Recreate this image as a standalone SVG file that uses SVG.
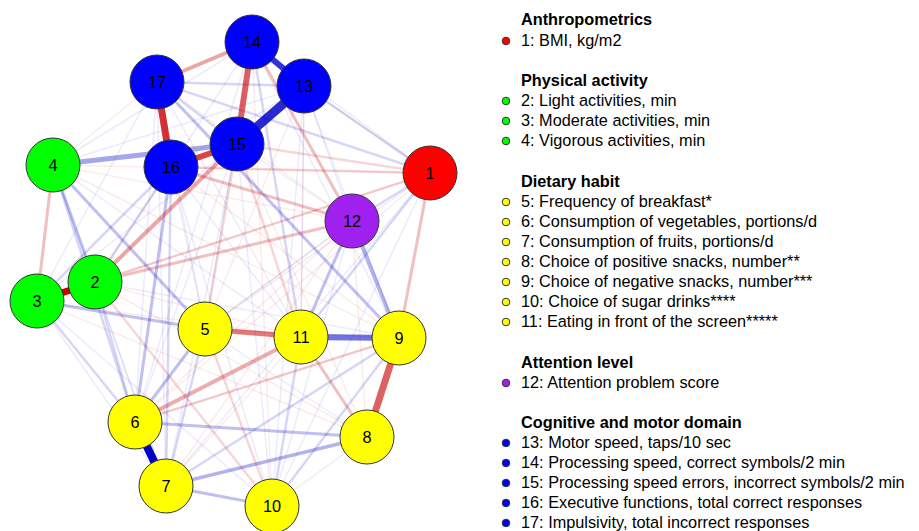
<svg xmlns="http://www.w3.org/2000/svg" width="919" height="531" viewBox="0 0 919 531">
<style>
.p{stroke:#0000c8;fill:none}
.n{stroke:#c80000;fill:none}
.f1{stroke-width:1.5;stroke-opacity:.08}
.f2{stroke-width:2.5;stroke-opacity:.16}
.f3{stroke-width:3;stroke-opacity:.25}
.node circle{stroke:#333;stroke-width:1}
.node text,.lab{font-family:"Liberation Sans",Arial,sans-serif;font-size:16.3px;fill:#000}
.node text{text-anchor:middle}
.head{font-family:"Liberation Sans",Arial,sans-serif;font-size:16.3px;font-weight:bold;fill:#000}
.dot{stroke:#333;stroke-width:1}
.c1{fill:#ff0000}.c2{fill:#00ff00}.c3{fill:#ffff00}.c4{fill:#a020f0}.c5{fill:#0000ff}
</style>
<rect width="919" height="531" fill="#fff"/>
<g id="edges">
<line class="p f1" x1="430" y1="173" x2="252" y2="42"/>
<line class="p f1" x1="430" y1="173" x2="205" y2="329"/>
<line class="p f1" x1="430" y1="173" x2="272" y2="506"/>
<line class="p f1" x1="430" y1="173" x2="166" y2="486"/>
<line class="p f1" x1="53" y1="165" x2="304" y2="86"/>
<line class="p f1" x1="53" y1="165" x2="252" y2="42"/>
<line class="p f1" x1="53" y1="165" x2="166" y2="486"/>
<line class="p f1" x1="53" y1="165" x2="301" y2="337"/>
<line class="p f1" x1="37" y1="301" x2="166" y2="486"/>
<line class="p f1" x1="37" y1="301" x2="272" y2="506"/>
<line class="p f1" x1="95" y1="282" x2="166" y2="486"/>
<line class="p f1" x1="205" y1="329" x2="367" y2="437"/>
<line class="p f1" x1="205" y1="329" x2="399" y2="338"/>
<line class="p f1" x1="367" y1="437" x2="272" y2="506"/>
<line class="p f1" x1="352" y1="221" x2="272" y2="506"/>
<line class="p f1" x1="157" y1="82" x2="301" y2="337"/>
<line class="p f1" x1="304" y1="86" x2="171" y2="167"/>
<line class="p f1" x1="252" y1="42" x2="171" y2="167"/>
<line class="p f1" x1="237" y1="144" x2="272" y2="506"/>
<line class="p f1" x1="171" y1="167" x2="272" y2="506"/>
<line class="p f1" x1="171" y1="167" x2="301" y2="337"/>
<line class="p f1" x1="157" y1="82" x2="205" y2="329"/>
<line class="p f1" x1="157" y1="82" x2="135" y2="422"/>
<line class="p f1" x1="352" y1="221" x2="205" y2="329"/>
<line class="p f1" x1="352" y1="221" x2="237" y2="144"/>
<line class="p f1" x1="304" y1="86" x2="301" y2="337"/>
<line class="p f1" x1="95" y1="282" x2="399" y2="338"/>
<line class="p f1" x1="37" y1="301" x2="237" y2="144"/>
<line class="p f1" x1="37" y1="301" x2="157" y2="82"/>
<line class="p f1" x1="237" y1="144" x2="135" y2="422"/>
<line class="p f1" x1="237" y1="144" x2="166" y2="486"/>
<line class="p f1" x1="252" y1="42" x2="135" y2="422"/>
<line class="p f1" x1="304" y1="86" x2="352" y2="221"/>
<line class="p f1" x1="171" y1="167" x2="205" y2="329"/>
<line class="p f1" x1="157" y1="82" x2="166" y2="486"/>
<line class="p f1" x1="252" y1="42" x2="205" y2="329"/>
<line class="p f1" x1="304" y1="86" x2="272" y2="506"/>
<line class="p f1" x1="304" y1="86" x2="399" y2="338"/>
<line class="p f1" x1="252" y1="42" x2="399" y2="338"/>
<line class="n f1" x1="430" y1="173" x2="135" y2="422"/>
<line class="n f1" x1="430" y1="173" x2="37" y2="301"/>
<line class="n f1" x1="37" y1="301" x2="301" y2="337"/>
<line class="n f1" x1="37" y1="301" x2="367" y2="437"/>
<line class="n f1" x1="95" y1="282" x2="367" y2="437"/>
<line class="n f1" x1="135" y1="422" x2="352" y2="221"/>
<line class="n f1" x1="166" y1="486" x2="352" y2="221"/>
<line class="n f1" x1="205" y1="329" x2="304" y2="86"/>
<line class="n f1" x1="272" y1="506" x2="252" y2="42"/>
<line class="n f1" x1="53" y1="165" x2="157" y2="82"/>
<line class="n f1" x1="53" y1="165" x2="352" y2="221"/>
<line class="n f1" x1="301" y1="337" x2="304" y2="86"/>
<line class="n f1" x1="157" y1="82" x2="352" y2="221"/>
<line class="n f1" x1="399" y1="338" x2="171" y2="167"/>
<line class="n f1" x1="367" y1="437" x2="237" y2="144"/>
<line class="n f1" x1="95" y1="282" x2="301" y2="337"/>
<line class="n f1" x1="430" y1="173" x2="53" y2="165"/>
<line class="n f1" x1="53" y1="165" x2="399" y2="338"/>
<line class="n f1" x1="205" y1="329" x2="352" y2="221"/>
<line class="n f1" x1="367" y1="437" x2="352" y2="221"/>
<line class="n f1" x1="166" y1="486" x2="301" y2="337"/>
<line class="n f1" x1="135" y1="422" x2="399" y2="338"/>
<line class="n f1" x1="430" y1="173" x2="304" y2="86"/>
<line class="n f1" x1="95" y1="282" x2="171" y2="167"/>
<line class="p f2" x1="430" y1="173" x2="304" y2="86"/>
<line class="p f2" x1="430" y1="173" x2="157" y2="82"/>
<line class="p f2" x1="430" y1="173" x2="301" y2="337"/>
<line class="p f2" x1="430" y1="173" x2="352" y2="221"/>
<line class="p f2" x1="166" y1="486" x2="399" y2="338"/>
<line class="p f2" x1="301" y1="337" x2="272" y2="506"/>
<line class="p f2" x1="272" y1="506" x2="399" y2="338"/>
<line class="p f2" x1="37" y1="301" x2="171" y2="167"/>
<line class="p f2" x1="95" y1="282" x2="171" y2="167"/>
<line class="p f2" x1="37" y1="301" x2="135" y2="422"/>
<line class="p f2" x1="95" y1="282" x2="135" y2="422"/>
<line class="p f2" x1="252" y1="42" x2="301" y2="337"/>
<line class="p f2" x1="157" y1="82" x2="304" y2="86"/>
<line class="p f2" x1="171" y1="167" x2="166" y2="486"/>
<line class="p f2" x1="205" y1="329" x2="166" y2="486"/>
<line class="p f2" x1="157" y1="82" x2="237" y2="144"/>
<line class="p f2" x1="53" y1="165" x2="135" y2="422"/>
<line class="n f2" x1="430" y1="173" x2="237" y2="144"/>
<line class="n f2" x1="430" y1="173" x2="171" y2="167"/>
<line class="n f2" x1="430" y1="173" x2="95" y2="282"/>
<line class="n f2" x1="95" y1="282" x2="272" y2="506"/>
<line class="n f2" x1="205" y1="329" x2="272" y2="506"/>
<line class="n f2" x1="237" y1="144" x2="205" y2="329"/>
<line class="n f2" x1="237" y1="144" x2="301" y2="337"/>
<line class="n f2" x1="135" y1="422" x2="399" y2="338"/>
<line class="p f3" x1="135" y1="422" x2="367" y2="437"/>
<line class="p f3" x1="166" y1="486" x2="272" y2="506"/>
<line class="p f3" x1="205" y1="329" x2="135" y2="422"/>
<line class="p f3" x1="171" y1="167" x2="135" y2="422"/>
<line class="p f3" x1="53" y1="165" x2="205" y2="329"/>
<line class="p f3" x1="53" y1="165" x2="95" y2="282"/>
<line class="p f3" x1="37" y1="301" x2="205" y2="329" stroke-width="2.5"/>
<line class="p f3" x1="352" y1="221" x2="301" y2="337"/>
<line class="p f3" x1="157" y1="82" x2="399" y2="338"/>
<line class="p" x1="166" y1="486" x2="367" y2="437" stroke-width="3.5" stroke-opacity=".3"/>
<line class="p" x1="352" y1="221" x2="399" y2="338" stroke-width="4" stroke-opacity=".3"/>
<line class="n f3" x1="53" y1="165" x2="37" y2="301"/>
<line class="n f3" x1="252" y1="42" x2="352" y2="221"/>
<line class="n f3" x1="171" y1="167" x2="352" y2="221"/>
<line class="n f3" x1="430" y1="173" x2="399" y2="338"/>
<line class="n f3" x1="352" y1="221" x2="95" y2="282"/>
<line class="n f3" x1="301" y1="337" x2="367" y2="437"/>
<line class="n" x1="252" y1="42" x2="157" y2="82" stroke-width="4" stroke-opacity=".35"/>
<line class="n" x1="237" y1="144" x2="95" y2="282" stroke-width="4" stroke-opacity=".35"/>
<line class="n" x1="301" y1="337" x2="135" y2="422" stroke-width="4" stroke-opacity=".32"/>
<line class="p" x1="53" y1="165" x2="237" y2="144" stroke-width="5" stroke-opacity=".35"/>
<line class="n" x1="205" y1="329" x2="301" y2="337" stroke-width="5" stroke-opacity=".52"/>
<line class="p" x1="301" y1="337" x2="399" y2="338" stroke-width="6" stroke-opacity=".55"/>
<line class="n" x1="252" y1="42" x2="237" y2="144" stroke-width="6" stroke-opacity=".62"/>
<line class="n" x1="399" y1="338" x2="367" y2="437" stroke-width="7" stroke-opacity=".62"/>
<line class="n" x1="171" y1="167" x2="237" y2="144" stroke-width="6" stroke-opacity=".72"/>
<line class="p" x1="304" y1="86" x2="252" y2="42" stroke-width="6" stroke-opacity=".8"/>
<line class="n" x1="157" y1="82" x2="171" y2="167" stroke-width="7" stroke-opacity=".8"/>
<line class="p" x1="304" y1="86" x2="237" y2="144" stroke-width="9" stroke-opacity=".84"/>
<line class="n" x1="95" y1="282" x2="37" y2="301" stroke-width="7" stroke-opacity="1" stroke="#c00000"/>
<line class="p" x1="135" y1="422" x2="166" y2="486" stroke-width="8" stroke-opacity="1" stroke="#0000cc"/>
</g>
<g id="node1" class="node"><circle class="c1" cx="430" cy="173" r="27"/><text x="430" y="179">1</text></g>
<g id="node3" class="node"><circle class="c2" cx="37" cy="301" r="27"/><text x="37" y="307">3</text></g>
<g id="node2" class="node"><circle class="c2" cx="95" cy="282" r="27"/><text x="95" y="288">2</text></g>
<g id="node4" class="node"><circle class="c2" cx="53" cy="165" r="27"/><text x="53" y="171">4</text></g>
<g id="node5" class="node"><circle class="c3" cx="205" cy="329" r="27"/><text x="205" y="335">5</text></g>
<g id="node6" class="node"><circle class="c3" cx="135" cy="422" r="27"/><text x="135" y="428">6</text></g>
<g id="node7" class="node"><circle class="c3" cx="166" cy="486" r="27"/><text x="166" y="492">7</text></g>
<g id="node8" class="node"><circle class="c3" cx="367" cy="437" r="27"/><text x="367" y="443">8</text></g>
<g id="node9" class="node"><circle class="c3" cx="399" cy="338" r="27"/><text x="399" y="344">9</text></g>
<g id="node10" class="node"><circle class="c3" cx="272" cy="506" r="27"/><text x="272" y="512">10</text></g>
<g id="node11" class="node"><circle class="c3" cx="301" cy="337" r="27"/><text x="301" y="343">11</text></g>
<g id="node12" class="node"><circle class="c4" cx="352" cy="221" r="27"/><text x="352" y="227">12</text></g>
<g id="node13" class="node"><circle class="c5" cx="304" cy="86" r="27"/><text x="304" y="92">13</text></g>
<g id="node14" class="node"><circle class="c5" cx="252" cy="42" r="27"/><text x="252" y="48">14</text></g>
<g id="node17" class="node"><circle class="c5" cx="157" cy="82" r="27"/><text x="157" y="88">17</text></g>
<g id="node16" class="node"><circle class="c5" cx="171" cy="167" r="27"/><text x="171" y="173">16</text></g>
<g id="node15" class="node"><circle class="c5" cx="237" cy="144" r="27"/><text x="237" y="150">15</text></g>
<g id="legend">
<text class="head" x="521" y="25">Anthropometrics</text>
<circle class="dot c1" cx="506" cy="41" r="3.8"/><text class="lab" x="521" y="46">1: BMI, kg/m2</text>
<text class="head" x="521" y="86">Physical activity</text>
<circle class="dot c2" cx="506" cy="101" r="3.8"/><text class="lab" x="521" y="106">2: Light activities, min</text>
<circle class="dot c2" cx="506" cy="121" r="3.8"/><text class="lab" x="521" y="126">3: Moderate activities, min</text>
<circle class="dot c2" cx="506" cy="141" r="3.8"/><text class="lab" x="521" y="146">4: Vigorous activities, min</text>
<text class="head" x="521" y="187">Dietary habit</text>
<circle class="dot c3" cx="506" cy="202" r="3.8"/><text class="lab" x="521" y="207">5: Frequency of breakfast*</text>
<circle class="dot c3" cx="506" cy="222" r="3.8"/><text class="lab" x="521" y="227">6: Consumption of vegetables, portions/d</text>
<circle class="dot c3" cx="506" cy="242" r="3.8"/><text class="lab" x="521" y="247">7: Consumption of fruits, portions/d</text>
<circle class="dot c3" cx="506" cy="262" r="3.8"/><text class="lab" x="521" y="267">8: Choice of positive snacks, number**</text>
<circle class="dot c3" cx="506" cy="282" r="3.8"/><text class="lab" x="521" y="287">9: Choice of negative snacks, number***</text>
<circle class="dot c3" cx="506" cy="302" r="3.8"/><text class="lab" x="521" y="307">10: Choice of sugar drinks****</text>
<circle class="dot c3" cx="506" cy="322" r="3.8"/><text class="lab" x="521" y="327">11: Eating in front of the screen*****</text>
<text class="head" x="521" y="368">Attention level</text>
<circle class="dot c4" cx="506" cy="383" r="3.8"/><text class="lab" x="521" y="388">12: Attention problem score</text>
<text class="head" x="521" y="428">Cognitive and motor domain</text>
<circle class="dot c5" cx="506" cy="443" r="3.8"/><text class="lab" x="521" y="448">13: Motor speed, taps/10 sec</text>
<circle class="dot c5" cx="506" cy="463" r="3.8"/><text class="lab" x="521" y="468">14: Processing speed, correct symbols/2 min</text>
<circle class="dot c5" cx="506" cy="483" r="3.8"/><text class="lab" x="521" y="488">15: Processing speed errors, incorrect symbols/2 min</text>
<circle class="dot c5" cx="506" cy="503" r="3.8"/><text class="lab" x="521" y="508">16: Executive functions, total correct responses</text>
<circle class="dot c5" cx="506" cy="523" r="3.8"/><text class="lab" x="521" y="528">17: Impulsivity, total incorrect responses</text>
</g>
</svg>
